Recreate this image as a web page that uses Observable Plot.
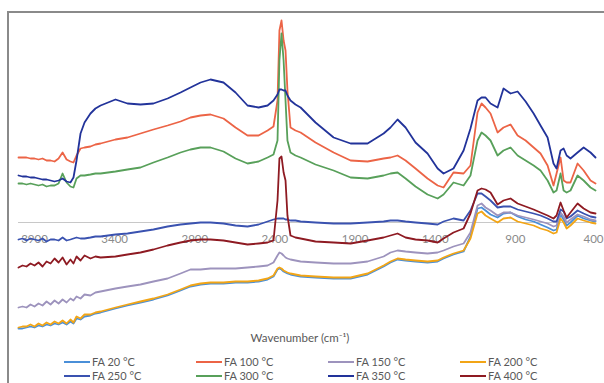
<!DOCTYPE html>
<html>
<head>
<meta charset="utf-8">
<script src="https://cdn.jsdelivr.net/npm/d3@7"></script>
<script src="https://cdn.jsdelivr.net/npm/@observablehq/plot@0.6"></script>
<style>
  html, body { margin: 0; padding: 0; background: #fff; }
  body { width: 604px; height: 383px; overflow: hidden; position: relative; font-family: Lato, "Open Sans", sans-serif; }
  #frame { position: absolute; left: 7px; top: 11px; width: 700px; height: 500px; border-left: 2px solid #8a8a8a; border-top: 2px solid #8a8a8a; }
  #chart { position: absolute; left: 0; top: 0; }
  #xtitle { position: absolute; left: 200px; width: 200px; top: 331px; text-align: center; font-size: 11.5px; color: #595959; }
  .leg { position: absolute; font-size: 11px; line-height: 13px; color: #595959; display: flex; align-items: center; white-space: nowrap; height: 13px; }
  .leg span.sw { display: inline-block; width: 26px; height: 2px; margin-right: 2px; }
</style>
</head>
<body>
<div id="frame"></div>
<div id="chart"></div>
<div id="xtitle">Wavenumber (cm⁻¹)</div>
<div id="legend"></div>
<script>
// Wavenumber grid (cm-1)
const wavenumbers = [4000,3975,3950,3925,3900,3875,3850,3825,3800,3775,3750,3725,3700,3676,3657,3638,3613,3588,3551,3520,3488,
  3395,3320,3239,3158,3070,2989,2927,2864,2802,2721,
  2646,2571,2502,2446,2409,2384,2372,2359,2346,2334,
  2322,2303,2272,2240,2147,2034,1928,1822,1722,1679,
  1635,1585,1523,1448,1385,1348,1286,1223,1180,1136,
  1111,1086,1055,1011,974,930,886,836,786,743,
  699,662,643,618,599,580,556,512,474,431,
  400];

// Absorbance (a.u., offset spectra)
const fa20 = [-53,-53,-52.5,-52,-52.5,-51.5,-52,-51,-51.5,-50.5,-51,-50,-51,-49.5,-50.5,-48,-48.5,-47,-46.5,-45.5,-45,
  -43,-41.5,-40,-38.5,-36.5,-34,-32,-31,-30.5,-30.5,
  -30,-30,-29.5,-28.5,-27,-23.5,-23,-23.5,-24.5,-25,
  -25.5,-26,-26.5,-27,-27.5,-28,-28,-26,-22,-20,
  -18.5,-19,-19.5,-20,-19.5,-18,-16,-14.5,-7,7,
  7.5,6,4,2.5,4.5,5,3,1.5,0.5,-1,
  -2.5,-4,-3.5,4,1.5,-1.5,0,3.5,2,1,
  0.5];
const fa100 = [32.5,32.5,32.5,32,32,31.5,32,31,31,30.5,32,35,31.5,30.5,30,33.5,37,37.5,38,39,39.5,
  41.5,42.5,44.5,46.5,48.5,50.5,52.5,53.5,54,52,
  47.5,43.5,43.5,46,48,61,96,101,91,86,
  66,47.5,46,45,40,35,31,30.5,32,32.5,
  33.5,31,27,22,18.5,17.5,25,24.5,28.5,55,
  59.5,57.5,54.5,45,47.5,49,43.5,41,37.5,34.5,
  28.5,18.5,24.5,32.5,21,20,20,29.5,26,21,
  19.5];
const fa150 = [-42.5,-42,-42.5,-41,-42,-40.5,-41.5,-39.5,-41,-39,-40.5,-38.5,-40,-38,-39,-37,-38,-36,-36.5,-35,-34.5,
  -33,-32,-31,-29.5,-28,-25.5,-23.5,-23.5,-23,-23,
  -23,-22.5,-22,-21.5,-20,-16.5,-15,-15.5,-16.5,-17.5,
  -18,-18.5,-19,-19.5,-20,-20.5,-20.5,-19.5,-17,-15,
  -14,-14.5,-15,-15.5,-15,-14,-12,-10.5,-5,8.5,
  9.5,7.5,6,3.5,5,5,3.5,2.5,1.5,0.5,
  -0.5,-2,-1.5,5,3,0,1.5,4,3,1.5,
  1];
const fa200 = [-52.5,-52,-52,-51,-52,-50.5,-51.5,-50,-51,-49.5,-50.5,-49,-50.5,-48.5,-50,-47,-48,-46,-46,-45,-44.5,
  -42.5,-41,-39.5,-38,-36,-33.5,-31.5,-30.5,-30,-30,
  -29.5,-29.5,-29,-28,-26.5,-23,-22.5,-23,-24,-24.5,
  -25,-25.5,-26,-26.5,-27,-27.5,-27.5,-25.5,-21.5,-19.5,
  -18,-18.5,-19,-19.5,-19,-17.5,-15.5,-14,-8,4.5,
  5.5,3.5,2,0,2,2.5,0.5,-0.5,-1.5,-3,
  -4,-5.5,-5,2,0,-3,-1.5,2,1,0,
  -0.5];
const fa250 = [-8.5,-8,-9,-8,-8.5,-9,-8,-9.5,-8.5,-8.5,-9,-7.5,-9,-8.5,-8,-7.5,-8,-8,-7.5,-7,-7,
  -6,-5.5,-4.5,-3.5,-2,-1,-0.5,0,0,-0.5,
  -1.5,-2,-1,0.5,1.5,2,2,2,2,1.5,
  1.5,1,1,0.5,0,-0.5,-0.5,0,0.5,1,
  1,0.5,0,-0.5,-1,0.5,2,1,6,14.5,
  14.5,13,11,7.5,8,8,6.5,5.5,4.5,3.5,
  2,0.5,0.5,6.5,5.5,2,3,6,4.5,3,
  2.5];
const fa300 = [19.5,19.5,19,19.5,19,18.5,19,18,18.5,18.5,19.5,24.5,20,18,17.5,22,23.5,23.5,24,24.5,24.5,
  25.5,26.5,27.5,30,32.5,35,36.5,37.5,37.5,35.5,
  32,29.5,30.5,32.5,34,41,81,94.5,81,61,
  41,35,33.5,32.5,29,26,22.5,22,23.5,24.5,
  25,22,18,14,12,14,20,18.5,23.5,41,
  45,43.5,41,33.5,36,37.5,33.5,31,28.5,26,
  21,15,16,24.5,16,15,16,23.5,21,17.5,
  16];
const fa350 = [23.5,23,23,22.5,22.5,22,21.5,21.5,21,20.5,21,22,20.5,20,22.5,31,44.5,50,54.5,57,58.5,
  61.5,59.5,59,59.5,62,65,67.5,70,71.5,70,
  65,58.5,57.5,58.5,61,64,66.5,66.5,66,66,
  63.5,61,59,57.5,50,42.5,39.5,39.5,44.5,47.5,
  51.5,47.5,40,34.5,27,24.5,27,36,47,61,
  62.5,62.5,59.5,57.5,67,64.5,65.5,60.5,54.5,48.5,
  42.5,29.5,27,36,37,33.5,32,35,37.5,35,
  32.5];
const fa400 = [-22.5,-21.5,-22,-20.5,-21.5,-20,-22,-19.5,-20.5,-18,-20,-17.5,-21,-18.5,-20.5,-17,-19,-16.5,-18,-17,-17.5,
  -17,-16,-15,-13.5,-11.5,-10,-9,-8.5,-8.5,-9,
  -10,-11,-10.5,-10,-9,11,32,33,25,21,
  3.5,-6.5,-7.5,-8,-9.5,-10,-10.5,-9,-7.5,-6.5,
  -5.5,-7.5,-8.5,-9,-10,-8,-5,-3,4.5,16,
  17,16.5,15,9,11,12,9.5,8,6.5,5,
  3.5,2,3.5,10,6,2.5,5,9.5,7,5,
  4.5];

const seriesNames = ["FA 20 °C","FA 100 °C","FA 150 °C","FA 200 °C","FA 250 °C","FA 300 °C","FA 350 °C","FA 400 °C"];
const seriesValues = [fa20, fa100, fa150, fa200, fa250, fa300, fa350, fa400];
const seriesColors = ["#4a8fd8","#ec6446","#9d93bd","#f2a516","#3a52b0","#58a05a","#22339a","#8e1a22"];
const tickValues = [3900, 3400, 2900, 2400, 1900, 1400, 900, 400];

const table = [];
seriesNames.forEach((name, i) => {
  seriesValues[i].forEach((v, j) => table.push({series: name, wn: wavenumbers[j], v}));
});

const innerTicks = tickValues.slice(0, -1);
const lastTick = tickValues.slice(-1);

const chart = Plot.plot({
  width: 604,
  height: 383,
  marginTop: 22, marginBottom: 41, marginLeft: 18, marginRight: 9,
  x: {domain: [4000, 400], range: [18, 595], axis: null},
  y: {domain: [-60, 100], range: [342, 22], axis: null},
  color: {domain: seriesNames, range: seriesColors},
  style: {background: "transparent", fontFamily: "Lato, 'Open Sans', sans-serif"},
  marks: [
    Plot.ruleY([0], {stroke: "#c8c8c8", strokeWidth: 1.2}),
    Plot.text(innerTicks, {x: d => d, y: 0, dy: 17, text: d => String(d), fill: "#8a8a8a", fontSize: 11.5}),
    Plot.text(lastTick, {x: d => d, y: 0, dy: 17, dx: 8, textAnchor: "end", text: d => String(d), fill: "#8a8a8a", fontSize: 11.5}),
    Plot.line(table, {x: "wn", y: "v", z: "series", stroke: "series", strokeWidth: 1.8, strokeLinejoin: "round"})
  ]
});
document.getElementById("chart").appendChild(chart);

// Legend (two rows of four)
const legend = document.getElementById("legend");
const colX = [64, 196, 328, 460];
const rowY = [355, 369];
seriesNames.forEach((name, i) => {
  const d = document.createElement("div");
  d.className = "leg";
  d.style.left = colX[i % 4] + "px";
  d.style.top = rowY[Math.floor(i / 4)] + "px";
  d.innerHTML = `<span class="sw" style="background:${seriesColors[i]}"></span>${name}`;
  legend.appendChild(d);
});
</script>
</body>
</html>
